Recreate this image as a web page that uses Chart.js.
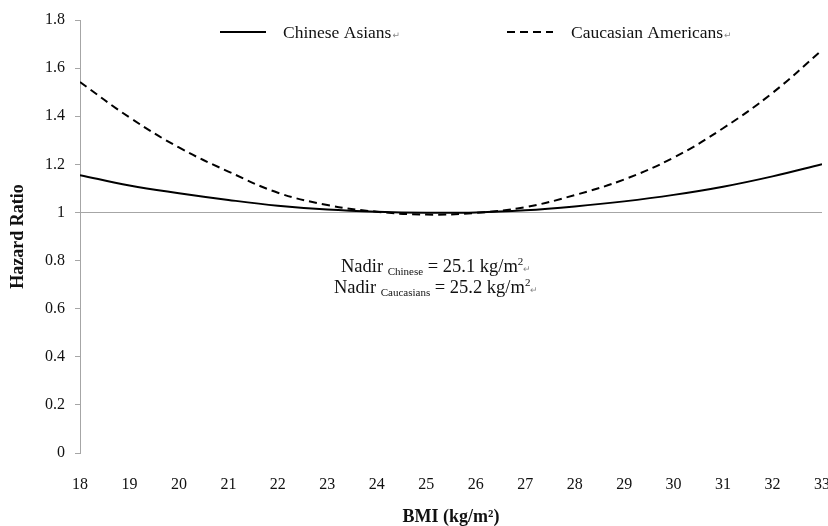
<!DOCTYPE html>
<html lang="en">
<head>
    <meta charset="UTF-8">
    <title>Hazard Ratio by BMI</title>
    <script src="https://cdn.jsdelivr.net/npm/chart.js"></script>
    <style>
        html, body { margin: 0; padding: 0; background: #fff; overflow: hidden; }
        .wrap { position: relative; width: 844px; height: 526px; }
    </style>
</head>
<body>
    <div class="wrap"><canvas id="hrChart"></canvas></div>
    <script>
        const bmi = [18, 19, 20, 21, 22, 23, 24, 25, 26, 27, 28, 29, 30, 31, 32, 33];
        const chineseHR = [1.155, 1.112, 1.080, 1.052, 1.028, 1.012, 1.003, 0.999, 1.000, 1.009, 1.025, 1.046, 1.073, 1.107, 1.150, 1.200];
        const caucasianHR = [1.542, 1.395, 1.270, 1.170, 1.082, 1.031, 1.003, 0.991, 0.998, 1.022, 1.072, 1.137, 1.228, 1.350, 1.497, 1.675];
        const seriesNames = ["Chinese Asians", "Caucasian Americans"];

        const serif = "'Liberation Serif', 'Times New Roman', serif";
        const axisGray = "#a6a6a6";

        const toPoints = (ys) => bmi.map((x, i) => ({ x, y: ys[i] }));

        // draws a line of mixed-size text (subscripts, superscripts) centred on cx
        const drawRich = (ctx, parts, cx, baseline) => {
            let total = 0;
            parts.forEach(p => {
                ctx.font = `${p.size}px ${serif}`;
                p.w = ctx.measureText(p.t).width;
                total += p.w;
            });
            let x = cx - total / 2;
            ctx.textAlign = "left";
            ctx.textBaseline = "alphabetic";
            parts.forEach(p => {
                ctx.font = `${p.size}px ${serif}`;
                ctx.fillStyle = p.color || "#111";
                ctx.fillText(p.t, x, baseline + (p.dy || 0));
                x += p.w;
            });
        };

        const extras = {
            id: "extras",
            afterDraw(chart) {
                const ctx = chart.ctx;
                ctx.save();
                // legend
                const ly = 32;
                ctx.strokeStyle = "#000";
                ctx.lineWidth = 2;
                ctx.beginPath();
                ctx.moveTo(220, ly); ctx.lineTo(266, ly);
                ctx.stroke();
                ctx.setLineDash([8, 5]);
                ctx.beginPath();
                ctx.moveTo(507, ly); ctx.lineTo(553, ly);
                ctx.stroke();
                ctx.setLineDash([]);
                ctx.textBaseline = "alphabetic";
                const legendText = (label, x) => {
                    ctx.font = `17.5px ${serif}`;
                    ctx.fillStyle = "#111";
                    ctx.textAlign = "left";
                    ctx.fillText(label, x, ly + 6);
                    const w = ctx.measureText(label).width;
                    ctx.font = `9px 'DejaVu Sans'`;
                    ctx.fillStyle = "#888";
                    ctx.fillText("\u21B5", x + w + 1, ly + 6);
                };
                legendText(seriesNames[0], 283);
                legendText(seriesNames[1], 571);

                // nadir note
                const cx = chart.scales.x.getPixelForValue(25.2);
                drawRich(ctx, [
                    { t: "Nadir ", size: 18.5 },
                    { t: "Chinese", size: 11, dy: 3 },
                    { t: " = 25.1 kg/m", size: 18.5 },
                    { t: "2", size: 11, dy: -7 },
                    { t: "\u21B5", size: 9, color: "#888" }
                ], cx, 272);
                drawRich(ctx, [
                    { t: "Nadir ", size: 18.5 },
                    { t: "Caucasians", size: 11, dy: 3 },
                    { t: " = 25.2 kg/m", size: 18.5 },
                    { t: "2", size: 11, dy: -7 },
                    { t: "\u21B5", size: 9, color: "#888" }
                ], cx, 293);
                ctx.restore();
            }
        };

        new Chart(document.getElementById("hrChart"), {
            type: "line",
            data: {
                datasets: [
                    {
                        label: seriesNames[0],
                        data: toPoints(chineseHR),
                        borderColor: "#000",
                        borderWidth: 2,
                        pointRadius: 0,
                        tension: 0.4,
                        fill: false
                    },
                    {
                        label: seriesNames[1],
                        data: toPoints(caucasianHR),
                        borderColor: "#000",
                        borderWidth: 2,
                        borderDash: [8, 5],
                        pointRadius: 0,
                        tension: 0.4,
                        fill: false
                    }
                ]
            },
            options: {
                responsive: true,
                maintainAspectRatio: false,
                animation: false,
                layout: { padding: { top: 20, right: 0, left: 0, bottom: 0 } },
                plugins: {
                    legend: { display: false },
                    tooltip: { enabled: false }
                },
                scales: {
                    x: {
                        type: "linear",
                        min: 18,
                        max: 33,
                        grid: { display: false },
                        border: { display: false },
                        ticks: {
                            stepSize: 1,
                            padding: 14,
                            color: "#111",
                            font: { family: serif, size: 16 }
                        },
                        title: {
                            display: true,
                            text: "BMI (kg/m\u00B2)",
                            color: "#111",
                            font: { family: serif, size: 18, weight: "bold" },
                            padding: { top: 0, bottom: -2 }
                        },
                        afterFit: (scale) => { scale.height = 73; }
                    },
                    y: {
                        min: 0,
                        max: 1.8,
                        grid: {
                            drawOnChartArea: true,
                            color: (c) => (c.tick && Math.abs(c.tick.value - 1) < 1e-6 ? axisGray : "rgba(0,0,0,0)"),
                            tickColor: axisGray,
                            tickLength: 5
                        },
                        border: { display: true, color: axisGray, width: 1 },
                        ticks: {
                            stepSize: 0.2,
                            padding: 10,
                            color: "#111",
                            font: { family: serif, size: 16 },
                            callback: (v) => String(Number(v.toFixed(1)))
                        },
                        title: {
                            display: true,
                            text: "Hazard Ratio",
                            color: "#111",
                            font: { family: serif, size: 18, weight: "bold" },
                            padding: { top: 8, bottom: 0 }
                        },
                        afterFit: (scale) => { scale.width = 80; }
                    }
                }
            },
            plugins: [extras]
        });
    </script>
</body>
</html>
